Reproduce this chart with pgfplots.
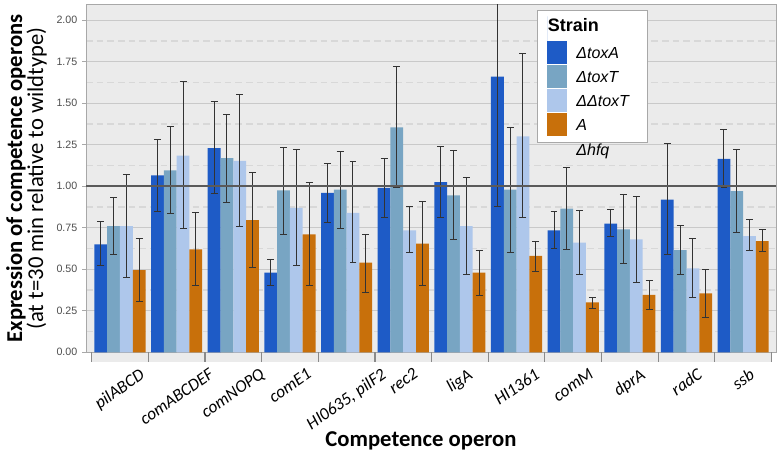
\documentclass[border=0pt]{standalone}
\usepackage{fontspec}
\setmainfont{Carlito}
\newfontfamily\arial{Liberation Sans}
\usepackage{graphicx}
\usepackage{pgfplots}
\usepackage{pgfplotstable}
\pgfplotsset{compat=1.18}
\definecolor{cA}{HTML}{1E5BC6}
\definecolor{cB}{HTML}{78A5C3}
\definecolor{cC}{HTML}{AEC7EB}
\definecolor{cD}{HTML}{C8700B}
\definecolor{bg}{HTML}{EBEBEB}
\definecolor{gridc}{HTML}{C9C9C9}
\definecolor{gridm}{HTML}{D8D8D8}
\definecolor{framec}{HTML}{A8A8A8}
\definecolor{sepc}{HTML}{8A8A8A}
\definecolor{tickc}{HTML}{4D4D4D}
\definecolor{refc}{HTML}{5A5A5A}
\definecolor{errc}{HTML}{333333}

% x = operon index, y = mean, lo/hi = error bar ends
\pgfplotstableread{
x y lo hi
0 0.65 0.52 0.79
1 1.065 0.85 1.28
2 1.23 0.955 1.51
3 0.48 0.405 0.56
4 0.96 0.78 1.14
5 0.99 0.81 1.17
6 1.025 0.81 1.24
7 1.66 0.88 2.44
8 0.735 0.625 0.845
9 0.775 0.70 0.86
10 0.92 0.59 1.26
11 1.165 0.99 1.34
}\tA
\pgfplotstableread{
x y lo hi
0 0.76 0.59 0.93
1 1.095 0.835 1.36
2 1.17 0.905 1.43
3 0.975 0.71 1.235
4 0.98 0.745 1.21
5 1.355 0.99 1.72
6 0.945 0.68 1.215
7 0.98 0.60 1.355
8 0.865 0.62 1.115
9 0.74 0.535 0.95
10 0.615 0.47 0.765
11 0.97 0.72 1.22
}\tB
\pgfplotstableread{
x y lo hi
0 0.76 0.45 1.07
1 1.185 0.744 1.63
2 1.153 0.76 1.55
3 0.87 0.52 1.22
4 0.84 0.54 1.15
5 0.735 0.60 0.88
6 0.76 0.47 1.05
7 1.30 0.81 1.80
8 0.66 0.47 0.855
9 0.68 0.42 0.94
10 0.505 0.33 0.685
11 0.70 0.615 0.80
}\tC
\pgfplotstableread{
x y lo hi
0 0.495 0.308 0.686
1 0.62 0.404 0.84
2 0.796 0.513 1.085
3 0.71 0.405 1.025
4 0.54 0.36 0.71
5 0.655 0.40 0.91
6 0.48 0.34 0.615
7 0.58 0.485 0.67
8 0.30 0.265 0.33
9 0.345 0.26 0.43
10 0.355 0.21 0.50
11 0.67 0.605 0.74
}\tD

\pgfplotsset{
  lg/.style={legend image code/.code={\fill[##1] (0pt,-8.6pt) rectangle (15pt,8.6pt);}},
  lgtitle/.style={legend image code/.code={%
    \fill[##1] (0pt,-8.6pt) rectangle (15pt,8.6pt);
    \path (0pt,27.35pt) -- (0pt,0pt);
    \node[overlay, anchor=west, inner sep=0pt, text height=9.7pt, text depth=0pt, fill=none, draw=none, text=black,
      font=\arial\bfseries\upshape\fontsize{13.5}{16}\selectfont] at (0pt,21pt) {Strain};}},
  eb/.style={error bars/.cd, y dir=both, y explicit,
    error bar style={errc, line width=0.75pt},
    error mark options={errc, line width=0.75pt, mark size=2.6pt, rotate=90}},
}

\begin{document}
\begin{tikzpicture}
\begin{axis}[
  set layers,
  scale only axis, width=517.5pt, height=260.7pt,
  xmin=-0.6, xmax=11.58, ymin=0, ymax=2.094,
  ybar=0pt, bar width=0.2258,
  clip mode=individual,
  axis background/.style={fill=bg},
  axis line style={draw=framec, line width=0.6pt},
  xtick={0,...,11},
  xticklabels={{\rotatebox{35}{pilABCD}},{\rotatebox{35}{comABCDEF}},{\rotatebox{35}{comNOPQ}},{\rotatebox{35}{comE1}},{\rotatebox{35}{HI0635, pilF2}},{\rotatebox{35}{rec2}},{\rotatebox{35}{ligA}},{\rotatebox{35}{HI1361}},{\rotatebox{35}{comM}},{\rotatebox{35}{dprA}},{\rotatebox{35}{radC}},{\rotatebox{35}{ssb}}},
  xtick style={draw=none},
  x tick label style={anchor=north, inner sep=0pt, yshift=-8.2pt, font=\fontsize{13}{15}\selectfont\itshape},
  ytick={0,0.25,0.5,0.75,1,1.25,1.5,1.75,2},
  ytick style={draw=framec, line width=0.6pt},
  tick align=outside, major tick length=3pt,
  minor y tick num=1, minor tick length=0pt,
  ymajorgrids, yminorgrids,
  major grid style={draw=gridc, line width=0.9pt},
  minor grid style={draw=gridm, line width=0.8pt, dash pattern=on 5pt off 3pt},
  y tick label style={font=\arial\fontsize{8}{9}\selectfont, text=tickc,
    /pgf/number format/.cd, fixed, fixed zerofill, precision=2, assume math mode=true},
  ylabel={\textbf{Expression of competence operons}\\(at t=30 min relative to wildtype)},
  every axis y label/.style={at={(axis description cs:-0.0565,0.5)}, rotate=90, anchor=south,
    inner sep=0pt, align=center, font=\fontsize{17}{15.75}\selectfont},
  xlabel={Competence operon},
  every axis x label/.style={at={(axis description cs:0.4855,-0.2724)}, anchor=base,
    inner sep=0pt, font=\bfseries\fontsize{17}{20}\selectfont},
  legend cell align=left,
  legend style={at={(axis description cs:0.6536,0.9848)}, anchor=north west,
    draw=framec, line width=0.6pt, fill=white, inner xsep=7.5pt, inner ysep=4.5pt,
    column sep=6.75pt, row sep=0pt,
    font=\arial\fontsize{12}{14}\selectfont\itshape,
    nodes={inner xsep=0pt, inner ysep=0pt, text height=13.3pt, text depth=4.7pt}},
]
\addplot[fill=cA, draw=none, lgtitle, eb]
  table[x=x, y=y, y error plus expr=\thisrow{hi}-\thisrow{y}, y error minus expr=\thisrow{y}-\thisrow{lo}] {\tA};
\addlegendentry{ΔtoxA}
\addplot[fill=cB, draw=none, lg, eb]
  table[x=x, y=y, y error plus expr=\thisrow{hi}-\thisrow{y}, y error minus expr=\thisrow{y}-\thisrow{lo}] {\tB};
\addlegendentry{ΔtoxT}
\addplot[fill=cC, draw=none, lg, eb]
  table[x=x, y=y, y error plus expr=\thisrow{hi}-\thisrow{y}, y error minus expr=\thisrow{y}-\thisrow{lo}] {\tC};
\addlegendentry{\makebox[45.75pt][l]{ΔΔtoxT}}
\addplot[fill=cD, draw=none, lg, eb]
  table[x=x, y=y, y error plus expr=\thisrow{hi}-\thisrow{y}, y error minus expr=\thisrow{y}-\thisrow{lo}] {\tD};
\addlegendentry{\begin{tabular}[t]{@{}l@{}}A\\[5pt]Δhfq\end{tabular}}

\draw[line width=1.2pt, refc] (axis cs:-0.6,1) -- (axis cs:11.58,1);

\begin{pgfonlayer}{axis background}
\fill[bg] (axis cs:-0.5,0) rectangle ([yshift=-7.4pt]axis cs:11.5,0);
\end{pgfonlayer}
\pgfplotsinvokeforeach{-0.5,0.5,1.5,2.5,3.5,4.5,5.5,6.5,7.5,8.5,9.5,10.5,11.5}{
  \draw[sepc, line width=0.9pt] (axis cs:#1,0) -- ([yshift=-7.4pt]axis cs:#1,0);
}
\coordinate (bsw) at (rel axis cs:0,0);
\coordinate (bne) at (rel axis cs:1,1);
\end{axis}
\pgfresetboundingbox
\path[use as bounding box] ([shift={(-64.5pt,-75.5pt)}]bsw) rectangle ([shift={(0.75pt,3.5pt)}]bne);
\end{tikzpicture}
\end{document}
